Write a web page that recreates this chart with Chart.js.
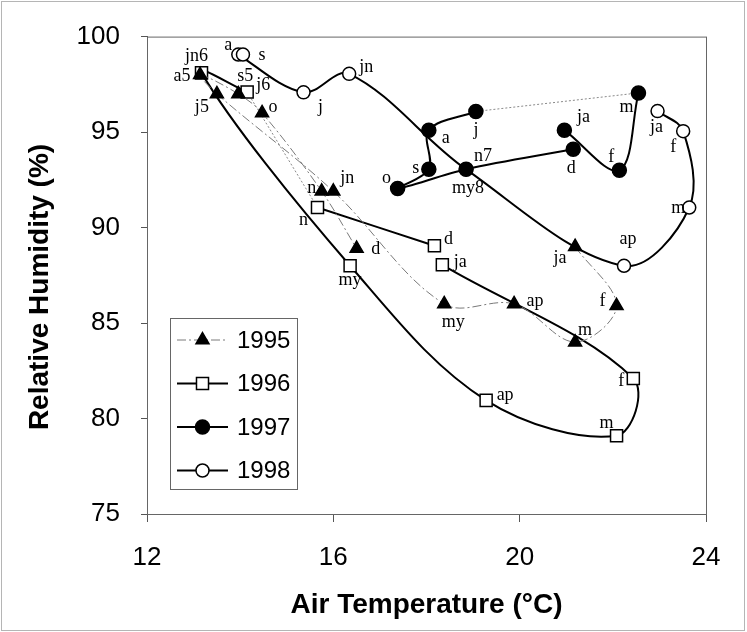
<!DOCTYPE html>
<html lang="en">
<head>
<meta charset="UTF-8">
<title>Relative Humidity vs Air Temperature</title>
<script src="https://cdn.jsdelivr.net/npm/chart.js"></script>
<style>
  body { margin: 0; background: #fff; }
  canvas { display: block; }
</style>
</head>
<body>
<canvas id="rhChart" width="747" height="632"></canvas>
<script>
// monthly means, listed in the order they were sampled
const months1995 = ['ja', 'f', 'm', 'ap', 'my', 'jn', 'j5', 'a5', 's5', 'o', 'n', 'd'];
const temp1995 = [21.19, 22.08, 21.19, 19.88, 18.38, 16.0, 13.5, 13.14, 13.96, 14.47, 15.75, 16.5];
const rh1995 = [89.0, 85.9, 84.0, 86.0, 86.0, 91.9, 97.0, 98.0, 97.0, 96.0, 91.9, 88.9];

const months1996 = ['ja', 'f', 'm', 'ap', 'my', 'jn6', 'j6', 'n', 'd'];
const temp1996 = [18.34, 22.44, 22.08, 19.28, 16.36, 13.17, 14.15, 15.66, 18.17];
const rh1996 = [88.05, 82.1, 79.1, 80.95, 88.0, 98.1, 97.1, 91.05, 89.05];
const gap1996 = 7; // a, s, o missing

const months1997 = ['ja', 'f', 'm', 'j', 'a', 's', 'o', 'n7', 'd'];
const temp1997 = [20.96, 22.14, 22.55, 19.06, 18.05, 18.05, 17.38, 18.85, 21.15];
const rh1997 = [95.1, 93.0, 97.05, 96.08, 95.1, 93.05, 92.05, 93.05, 94.1];
const gap1997 = 3; // ap, my, jn missing

const months1998 = ['ja', 'f', 'm', 'ap', 'my8', 'jn', 'j', 'a', 's'];
const temp1998 = [22.96, 23.51, 23.64, 22.24, 18.85, 16.34, 15.36, 13.96, 14.06];
const rh1998 = [96.1, 95.05, 91.05, 88.0, 93.05, 98.05, 97.08, 99.06, 99.06];

const years = ['1995', '1996', '1997', '1998'];

// where each month tag sits relative to its marker (px)
const tagOffsets = {
  '1995': [[-15, 12], [-14, -5], [10, -12], [21, -3], [9, 18], [14, -13], [-15, 13], [-18, 1], [7, -18], [11, -6], [-10, -3], [19, 1]],
  '1996': [[18, -3], [-12, 3], [-10, -12], [19, -5], [0, 15], [-5, -17], [16, -7], [-14, 13], [14, -6]],
  '1997': [[19, -13], [-8, -13], [-12, 14], [0, 19], [17, 8], [-13, -1], [-11, -10], [17, -13], [-2, 19]],
  '1998': [[-1, 16], [-10, 16], [-11, 1], [4, -26], [2, 19], [17, -7], [17, 15], [-10, -9], [19, 1]]
};

const styles = {
  '1995': { shape: 'triangle', radius: 7.5, fill: '#000', line: '#7a7a7a', width: 1, dash: [9, 3, 2, 3] },
  '1996': { shape: 'rect', radius: 8.5, fill: '#fff', line: '#000', width: 2, dash: [] },
  '1997': { shape: 'circle', radius: 7, fill: '#000', line: '#000', width: 2, dash: [] },
  '1998': { shape: 'circle', radius: 6.5, fill: '#fff', line: '#000', width: 2, dash: [] }
};

function pts(t, h, from, to) {
  const out = [];
  for (let i = from; i < to; i++) out.push({ x: t[i], y: h[i] });
  return out;
}

function lineSet(year, data) {
  const s = styles[year];
  return {
    label: year,
    data,
    showLine: true,
    tension: 0.35,
    borderColor: s.line,
    borderWidth: s.width,
    borderDash: s.dash,
    pointStyle: s.shape,
    pointRadius: s.radius,
    pointHoverRadius: s.radius,
    pointBackgroundColor: s.fill,
    pointBorderColor: '#000',
    pointBorderWidth: 1.5
  };
}

function gapSet(t, h, i) {
  return {
    label: 'gap',
    data: pts(t, h, i - 1, i + 1),
    showLine: true,
    tension: 0,
    borderColor: '#8a8a8a',
    borderWidth: 1,
    borderDash: [2, 2],
    pointRadius: 0
  };
}

// first in the list is drawn on top
const datasets = [
  lineSet('1997', pts(temp1997, rh1997, 0, gap1997)),
  lineSet('1997', pts(temp1997, rh1997, gap1997, temp1997.length)),
  lineSet('1995', pts(temp1995, rh1995, 0, temp1995.length)),
  lineSet('1996', pts(temp1996, rh1996, 0, gap1996)),
  lineSet('1996', pts(temp1996, rh1996, gap1996, temp1996.length)),
  lineSet('1998', pts(temp1998, rh1998, 0, temp1998.length)),
  gapSet(temp1997, rh1997, gap1997),
  gapSet(temp1996, rh1996, gap1996)
];

const tagSeries = [
  ['1995', months1995, temp1995, rh1995],
  ['1996', months1996, temp1996, rh1996],
  ['1997', months1997, temp1997, rh1997],
  ['1998', months1998, temp1998, rh1998]
];

function marker(ctx, s, x, y) {
  ctx.beginPath();
  if (s.shape === 'triangle') {
    for (let k = 0; k < 3; k++) {
      const a = k * 2 * Math.PI / 3;
      const px = x + Math.sin(a) * s.radius, py = y - Math.cos(a) * s.radius;
      k ? ctx.lineTo(px, py) : ctx.moveTo(px, py);
    }
    ctx.closePath();
  } else if (s.shape === 'rect') {
    const h = s.radius * Math.SQRT1_2;
    ctx.rect(x - h, y - h, 2 * h, 2 * h);
  } else {
    ctx.arc(x, y, s.radius, 0, Math.PI * 2);
  }
  ctx.fillStyle = s.fill;
  ctx.fill();
  ctx.lineWidth = 1.5;
  ctx.strokeStyle = '#000';
  ctx.stroke();
}

const framePlugin = {
  id: 'frame',
  beforeDraw(chart) {
    const { ctx, width, height } = chart;
    ctx.save();
    ctx.fillStyle = '#fff';
    ctx.fillRect(0, 0, width, height);
    ctx.strokeStyle = '#b5b5b5';
    ctx.lineWidth = 1;
    ctx.strokeRect(1.5, 1.5, width - 4, height - 3);
    ctx.restore();
  },
  beforeDatasetsDraw(chart) {
    const { ctx, chartArea: a } = chart;
    ctx.save();
    ctx.strokeStyle = '#666';
    ctx.lineWidth = 1;
    ctx.strokeRect(a.left + 0.5, a.top + 0.5, a.right - a.left, a.bottom - a.top);
    ctx.restore();
  }
};

const tagPlugin = {
  id: 'monthTags',
  afterDatasetsDraw(chart) {
    const { ctx, scales: { x, y } } = chart;
    ctx.save();
    ctx.font = '18px "Liberation Serif", "Times New Roman", serif';
    ctx.fillStyle = '#000';
    ctx.textAlign = 'center';
    ctx.textBaseline = 'middle';
    tagSeries.forEach(([year, names, t, h]) => {
      names.forEach((name, i) => {
        const [dx, dy] = tagOffsets[year][i];
        ctx.fillText(name, x.getPixelForValue(t[i]) + dx, y.getPixelForValue(h[i]) + dy);
      });
    });
    ctx.restore();
  }
};

// boxed legend in the lower left of the plot
const legendPlugin = {
  id: 'insetLegend',
  afterDraw(chart) {
    const ctx = chart.ctx;
    const box = { x: 170.5, y: 318.5, w: 127, h: 171 };
    ctx.save();
    ctx.fillStyle = '#fff';
    ctx.fillRect(box.x, box.y, box.w, box.h);
    ctx.strokeStyle = '#666';
    ctx.lineWidth = 1;
    ctx.strokeRect(box.x, box.y, box.w, box.h);
    years.forEach((year, i) => {
      const s = styles[year];
      const cy = 340 + i * 43.5;
      ctx.beginPath();
      ctx.setLineDash(s.dash);
      ctx.strokeStyle = s.line;
      ctx.lineWidth = s.width;
      ctx.moveTo(177, cy);
      ctx.lineTo(228, cy);
      ctx.stroke();
      ctx.setLineDash([]);
      marker(ctx, s, 202.5, cy);
      ctx.fillStyle = '#000';
      ctx.font = '24px "Liberation Sans", Arial, sans-serif';
      ctx.textAlign = 'left';
      ctx.textBaseline = 'middle';
      ctx.fillText(year, 237, cy + 1);
    });
    ctx.restore();
  }
};

const tickFont = { family: '"Liberation Sans", Arial, sans-serif', size: 26 };
const titleFont = { family: '"Liberation Sans", Arial, sans-serif', size: 28, weight: 'bold' };

new Chart(document.getElementById('rhChart'), {
  type: 'scatter',
  data: { datasets },
  plugins: [framePlugin, tagPlugin, legendPlugin],
  options: {
    responsive: false,
    animation: false,
    events: [],
    layout: { padding: { top: 34, right: 41, left: 0, bottom: 0 } },
    plugins: { legend: { display: false }, tooltip: { enabled: false } },
    scales: {
      x: {
        type: 'linear',
        min: 12,
        max: 24,
        ticks: { stepSize: 4, font: tickFont, color: '#000', padding: 20 },
        grid: { drawOnChartArea: false, tickLength: 8, color: '#555' },
        border: { color: '#555' },
        title: { display: true, text: 'Air Temperature (°C)', font: titleFont, color: '#000', padding: { top: 0, bottom: 10 } },
        afterFit(scale) { scale.height = 118; }
      },
      y: {
        min: 75,
        max: 100,
        ticks: { stepSize: 5, font: tickFont, color: '#000', padding: 21 },
        grid: { drawOnChartArea: false, tickLength: 6, color: '#555' },
        border: { color: '#555' },
        // trailing no-break spaces nudge the rotated title down a little
        title: { display: true, text: 'Relative Humidity (%)\u00a0\u00a0\u00a0', font: titleFont, color: '#000', padding: { top: 23, bottom: 0 } },
        afterFit(scale) { scale.width = 147; }
      }
    }
  }
});
</script>
</body>
</html>
